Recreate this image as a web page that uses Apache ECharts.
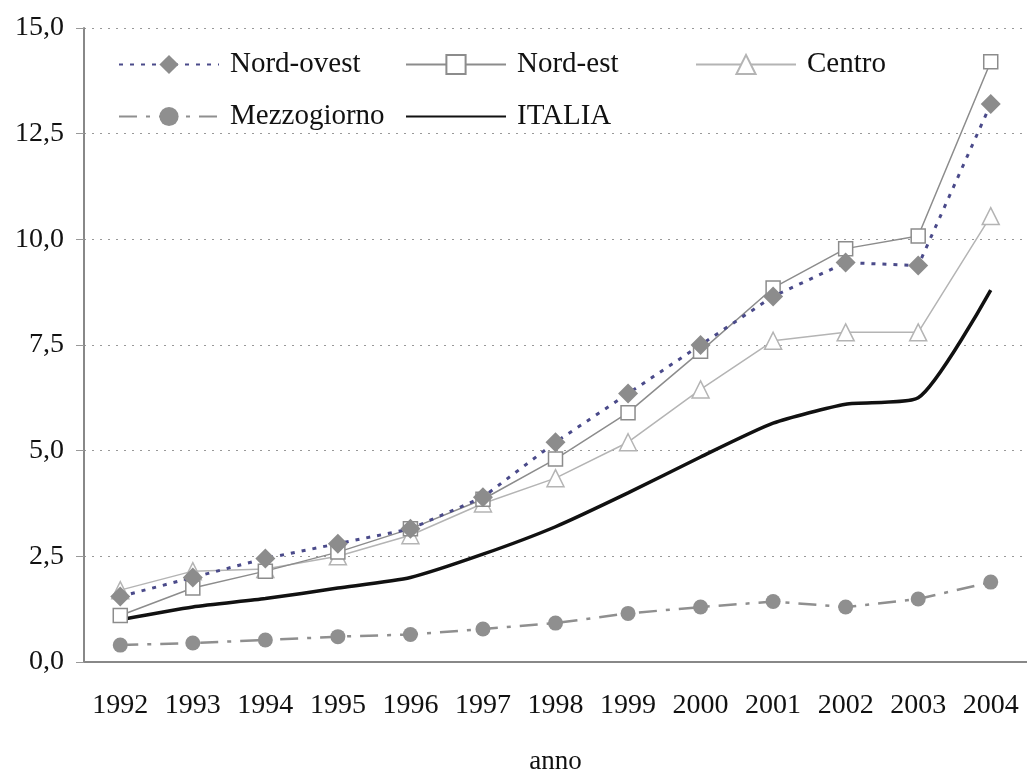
<!DOCTYPE html>
<html><head><meta charset="utf-8">
<script src="https://cdn.jsdelivr.net/npm/echarts@6/dist/echarts.min.js"></script>
<style>html,body{margin:0;padding:0;background:#fff}#c{width:1027px;height:774px}</style>
</head><body><div id="c"></div>
<script>
const years = ['1992','1993','1994','1995','1996','1997','1998','1999','2000','2001','2002','2003','2004'];
const nordOvest = [1.55,2.0,2.45,2.8,3.15,3.9,5.2,6.35,7.5,8.65,9.45,9.38,13.2];
const nordEst = [1.1,1.75,2.15,2.6,3.15,3.85,4.8,5.9,7.35,8.85,9.78,10.08,14.2];
const centro = [1.7,2.15,2.2,2.5,3.0,3.75,4.35,5.2,6.45,7.6,7.8,7.8,10.55];
const mezzogiorno = [0.4,0.45,0.52,0.6,0.65,0.78,0.92,1.15,1.3,1.43,1.3,1.49,1.89];
const italia = [1.0,1.3,1.5,1.75,2.0,2.55,3.2,4.0,4.85,5.65,6.1,6.25,8.8];
const yTicks = [0,2.5,5,7.5,10,12.5,15];

const font = 'Liberation Serif';
const chart = echarts.init(document.getElementById('c'), null, {renderer:'canvas'});
function leg(item, left, top){
  return {data:[item], left:left, top:top, itemWidth:100, itemHeight:24, itemGap:0,
    textStyle:{fontFamily:font, fontSize:29, color:'#111', padding:[0,0,0,6]}, selectedMode:false};
}
chart.setOption({
  animation:false,
  legend:[leg('Nord-ovest',113,45), leg('Nord-est',400,45), leg('Centro',690,45),
          leg('Mezzogiorno',113,97), leg({name:'ITALIA', itemStyle:{opacity:0}},400,97)],
  grid:{left:84, right:0, top:28, bottom:112, outerBoundsMode:'none', containLabel:false},
  xAxis:{type:'category', data:years, boundaryGap:true,
    name:'anno', nameLocation:'middle', nameGap:86,
    nameTextStyle:{fontFamily:font, fontSize:27, color:'#111'},
    axisLine:{lineStyle:{color:'#888', width:2}},
    axisTick:{length:9, lineStyle:{color:'#888', width:1.5}},
    axisLabel:{fontFamily:font, fontSize:28, color:'#111', margin:30, interval:0}},
  yAxis:{type:'value', min:0, max:15, interval:2.5,
    axisLine:{show:true, lineStyle:{color:'#888', width:2}},
    axisTick:{show:true, length:8, lineStyle:{color:'#999'}},
    axisLabel:{fontFamily:font, fontSize:28, color:'#111', margin:20,
      formatter:v=>yTicks.includes(v)? v.toFixed(1).replace('.',','):''},
    splitLine:{show:true, lineStyle:{color:'#999', type:[2,6], width:1.2}}},
  series:[
    {name:'Nord-ovest', type:'line', data:nordOvest, symbol:'diamond', symbolSize:20,
      itemStyle:{color:'#8c8c8c'}, lineStyle:{color:'#4a4a8a', width:3, type:[4,7]}, z:5},
    {name:'Nord-est', type:'line', data:nordEst, symbol:'rect', symbolSize:14,
      itemStyle:{color:'#fff', borderColor:'#8c8c8c', borderWidth:1.5}, lineStyle:{color:'#8c8c8c', width:1.5}, z:4},
    {name:'Centro', type:'line', data:centro, symbol:'triangle', symbolSize:17,
      itemStyle:{color:'#fff', borderColor:'#b4b4b4', borderWidth:1.5}, lineStyle:{color:'#b4b4b4', width:1.5}, z:3},
    {name:'Mezzogiorno', type:'line', data:mezzogiorno, symbol:'circle', symbolSize:15,
      itemStyle:{color:'#8f8f8f'}, lineStyle:{color:'#8f8f8f', width:2.5, type:[18,9,4,9]}, z:2},
    {name:'ITALIA', type:'line', data:italia, symbol:'none', smooth:0.2,
      itemStyle:{color:'#111'}, lineStyle:{color:'#111', width:3.5}, z:1}
  ]
});
</script></body></html>
